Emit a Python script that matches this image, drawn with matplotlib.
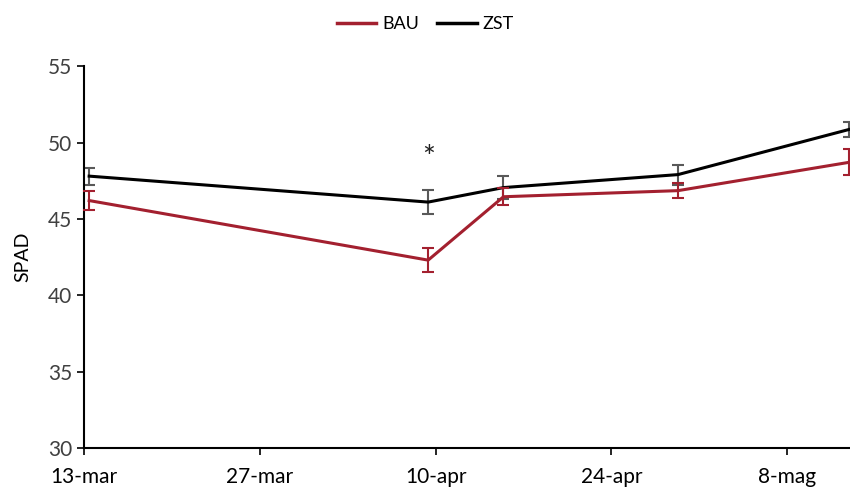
import matplotlib
matplotlib.use("Agg")
import matplotlib.pyplot as plt
from matplotlib.lines import Line2D

# Data (days since 13-mar)
days = [0.4, 27.4, 33.4, 47.3, 60.9]
bau = [46.2, 42.3, 46.45, 46.85, 48.7]
bau_err = [0.6, 0.8, 0.55, 0.5, 0.85]
zst = [47.8, 46.1, 47.05, 47.9, 50.85]
zst_err = [0.55, 0.8, 0.75, 0.65, 0.5]
tick_days = [0, 14, 28, 42, 56]
tick_labels = ["13-mar", "27-mar", "10-apr", "24-apr", "8-mag"]
series_names = ["BAU", "ZST"]

plt.rcParams['font.family'] = ['Lato', 'DejaVu Sans']

fig = plt.figure(figsize=(8.5, 4.9), dpi=100)
ax = fig.add_axes([0.099, 0.0857, 0.901, 0.7793])

red = '#A3202F'
ax.errorbar(days, bau, yerr=bau_err, color=red, lw=2.2, ecolor=red, elinewidth=1.5,
            capsize=4, capthick=1.5, label=series_names[0], clip_on=False, zorder=3)
ax.errorbar(days, zst, yerr=zst_err, color='black', lw=2.2, ecolor='#595959', elinewidth=1.5,
            capsize=4, capthick=1.5, label=series_names[1], clip_on=False, zorder=2)

ax.text(27.4, 49.0, '*', ha='center', va='center', fontsize=22, color='#222222')

ax.set_xlim(0, 61)
ax.set_ylim(30, 55)
ax.set_yticks([30, 35, 40, 45, 50, 55])
ax.set_xticks(tick_days)
ax.set_xticklabels(tick_labels)
ax.tick_params(axis='both', direction='out', length=5, width=1.2, labelsize=15, colors='#000000')
ax.tick_params(axis='y', labelcolor='#404040')
ax.tick_params(axis='x', pad=9)
for s in ['top', 'right']:
    ax.spines[s].set_visible(False)
for s in ['left', 'bottom']:
    ax.spines[s].set_linewidth(1.5)
ax.set_ylabel('SPAD', fontsize=14, labelpad=12)

handles = [Line2D([], [], color=red, lw=2.5), Line2D([], [], color='black', lw=2.5)]
fig.legend(handles, series_names, loc='upper center', bbox_to_anchor=(0.5, 1.0), ncol=2,
           frameon=False, fontsize=13, handlelength=2.2, handletextpad=0.3, columnspacing=1.0)

fig.savefig('out.png', dpi=100)
